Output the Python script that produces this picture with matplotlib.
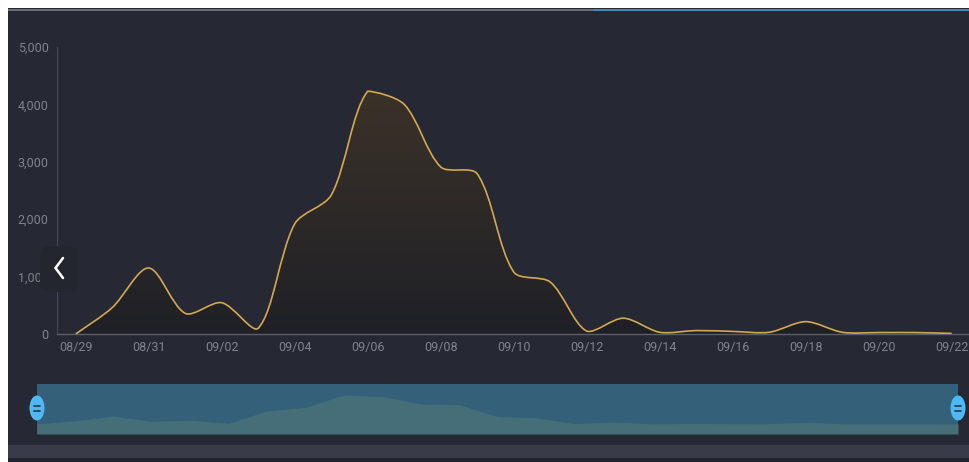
import numpy as np
import matplotlib
matplotlib.use('Agg')
import matplotlib.pyplot as plt
from matplotlib.path import Path
from matplotlib.patches import PathPatch, Rectangle, Ellipse, FancyBboxPatch
from matplotlib.colors import to_rgb

# Data
dates = ['08/29', '08/30', '08/31', '09/01', '09/02', '09/03', '09/04', '09/05',
         '09/06', '09/07', '09/08', '09/09', '09/10', '09/11', '09/12', '09/13',
         '09/14', '09/15', '09/16', '09/17', '09/18', '09/19', '09/20', '09/21', '09/22']
values = [0, 460, 1150, 360, 545, 100, 1920, 2420, 4230, 4000, 2910, 2790,
          1080, 905, 50, 275, 30, 60, 45, 30, 215, 30, 25, 25, 10]
y_ticks = [0, 1000, 2000, 3000, 4000, 5000]

W, H = 970, 462
BG = '#262933'
LINE = '#d3a850'
TXT = '#80838c'
plt.rcParams['font.family'] = ['Roboto', 'DejaVu Sans']


def px(x, y, w, h):
    # pixel box (top-left origin) -> figure fraction
    return [x / W, 1 - (y + h) / H, w / W, h / H]


def smooth_path(xs, ys, sx, sy, smooth=0.3, close_to=None):
    # echarts style bezier smoothing, control points kept in the global bbox
    p = np.column_stack([np.asarray(xs) * sx, np.asarray(ys) * sy]).astype(float)
    n = len(p)
    lo, hi = p.min(axis=0), p.max(axis=0)
    cin = p.copy()
    cout = p.copy()
    for i in range(n):
        prv = p[i - 1] if i > 0 else p[i]
        nxt = p[i + 1] if i < n - 1 else p[i]
        v = (nxt - prv) * smooth
        d0 = np.hypot(*(p[i] - prv))
        d1 = np.hypot(*(nxt - p[i]))
        s = d0 + d1
        if s > 0:
            d0, d1 = d0 / s, d1 / s
        cin[i] = np.clip(p[i] - v * d0, lo, hi)
        cout[i] = np.clip(p[i] + v * d1, lo, hi)
    verts = [p[0]]
    codes = [Path.MOVETO]
    for i in range(n - 1):
        verts += [cout[i], cin[i + 1], p[i + 1]]
        codes += [Path.CURVE4] * 3
    verts = np.array(verts) / [sx, sy]
    if close_to is not None:
        verts = np.vstack([verts, [verts[-1][0], close_to], [verts[0][0], close_to], verts[0]])
        codes += [Path.LINETO, Path.LINETO, Path.CLOSEPOLY]
    return Path(verts, codes)


fig = plt.figure(figsize=(W / 100, H / 100), dpi=100)
fig.patch.set_facecolor(BG)

# Main chart
ax = fig.add_axes(px(57.5, 47, 970 - 57.5, 334 - 47))
ax.set_facecolor(BG)
xs = np.arange(len(values))
ax.set_xlim(-0.5, len(values) - 0.5)
ax.set_ylim(0, 5000)

# gradient area under the curve
area = smooth_path(xs, values, 36.5, 0.0574, close_to=0)
top_c, bot_c = np.array(to_rgb('#3b3229')), np.array(to_rgb('#1f2026'))
t = np.linspace(1, 0, 256)[:, None]
grad = (top_c * t + bot_c * (1 - t))[:, None, :]
im = ax.imshow(grad, extent=[xs[0], xs[-1], 0, max(values)], aspect='auto',
               origin='upper', zorder=1)
clip = PathPatch(area, transform=ax.transData, facecolor='none', edgecolor='none')
ax.add_patch(clip)
im.set_clip_path(clip)

line = smooth_path(xs, values, 36.5, 0.0574)
ax.add_patch(PathPatch(line, facecolor='none', edgecolor=LINE, lw=1.2, zorder=3))

for s in ['top', 'right']:
    ax.spines[s].set_visible(False)
ax.spines['left'].set_color('#464953')
ax.spines['left'].set_linewidth(0.8)
ax.spines['bottom'].set_color('#5c5f69')
ax.spines['bottom'].set_linewidth(1.0)
ax.set_yticks(y_ticks)
ax.set_yticklabels([f'{v:,}' for v in y_ticks])
ax.set_xticks(xs[::2])
ax.set_xticklabels(dates[::2])
ax.tick_params(axis='y', length=0, pad=6.5, labelsize=9, labelcolor=TXT)
ax.tick_params(axis='x', length=0, pad=5, labelsize=9, labelcolor=TXT)

# Data zoom slider
sl = fig.add_axes(px(37, 384, 921, 50))
sl.set_facecolor('#35607a')
sl.set_xlim(0, len(values) - 1)
sl.set_ylim(-1460, 5830)
sl.fill_between(xs, values, -1460, color='#466e79', lw=0)
sl.set_xticks([])
sl.set_yticks([])
for s in sl.spines.values():
    s.set_visible(False)

# Overlay: frame strips, handles, arrow button
ov = fig.add_axes([0, 0, 1, 1], zorder=10)
ov.set_xlim(0, W)
ov.set_ylim(H, 0)
ov.axis('off')
ov.add_patch(Rectangle((0, 0), W, 8, color='white', lw=0))
ov.add_patch(Rectangle((0, 0), 8, H, color='white', lw=0))
ov.add_patch(Rectangle((8, 8.5), 585, 2.2, color='#6b6e78', lw=0))
ov.add_patch(Rectangle((593, 8.5), W - 593, 2.2, color='#3c8db6', lw=0))
ov.add_patch(Rectangle((8, 445), W - 8, 13, color='#393c48', lw=0))
ov.add_patch(Rectangle((8, 458), W - 8, 4, color='#22252d', lw=0))

for hx in [37, 958]:
    ov.add_patch(Ellipse((hx, 408), 15, 25, color='#4fb9f3', lw=0))
    for dy in [-2.5, 2.5]:
        ov.plot([hx - 3, hx + 3], [408 + dy, 408 + dy], color='#27465a', lw=1.3,
                solid_capstyle='round')

ov.add_patch(FancyBboxPatch((40, 246), 38, 46, boxstyle='round,pad=0,rounding_size=10',
                            facecolor='#24262f', edgecolor='none'))
ov.plot([63, 55.5, 63], [258, 268, 278], color='white', lw=1.8,
        solid_capstyle='round', solid_joinstyle='miter')

fig.savefig('out.png', dpi=100, facecolor=fig.get_facecolor())
